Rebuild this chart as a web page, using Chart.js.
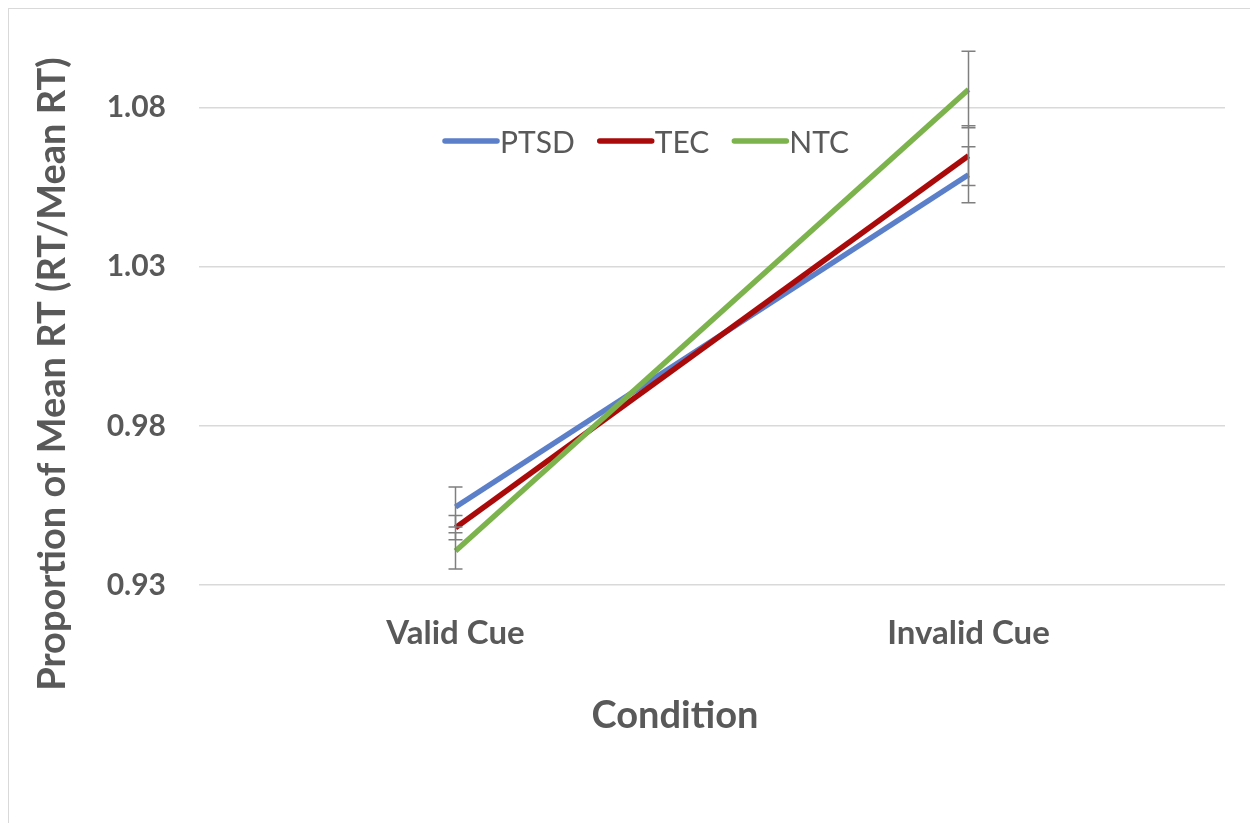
<!DOCTYPE html>
<html>
<head>
<meta charset="utf-8">
<script src="https://cdn.jsdelivr.net/npm/chart.js@4"></script>
<style>
  html, body { margin: 0; padding: 0; background: #fff; }
  #wrap { position: absolute; left: 8px; top: 8px; width: 1241px; height: 814px; border: 1px solid #d9d9d9; border-right: none; border-bottom: none; }
  #chart { position: absolute; left: -9px; top: -9px; }
</style>
</head>
<body>
<div id="wrap"><canvas id="chart" width="1250" height="823"></canvas></div>
<script>
const categories = ['Valid Cue', 'Invalid Cue'];
const ptsdValues = [0.9545, 1.0589];
const tecValues = [0.9480, 1.0649];
const ntcValues = [0.9407, 1.0857];
const ptsdErrors = [0.0063, 0.0088];
const tecErrors = [0.0038, 0.0094];
const ntcErrors = [0.0057, 0.0120];
const yTicks = [0.93, 0.98, 1.03, 1.08];
const xTitle = 'Condition';
const yTitle = 'Proportion of Mean RT (RT/Mean RT)';

const textColor = '#595959';
const fontFamily = 'Lato, "Open Sans", sans-serif';

// error bars drawn on top of the lines
const errorBars = {
    id: 'errorBars',
    afterDatasetsDraw(chart) {
        const ctx = chart.ctx;
        const y = chart.scales.y;
        ctx.save();
        ctx.strokeStyle = '#7f7f7f';
        ctx.lineWidth = 1.5;
        chart.data.datasets.forEach((ds, i) => {
            const meta = chart.getDatasetMeta(i);
            meta.data.forEach((pt, j) => {
                const v = ds.data[j];
                const e = ds.errors[j];
                const top = y.getPixelForValue(v + e);
                const bot = y.getPixelForValue(v - e);
                ctx.beginPath();
                ctx.moveTo(pt.x, top);
                ctx.lineTo(pt.x, bot);
                ctx.moveTo(pt.x - 7, top);
                ctx.lineTo(pt.x + 7, top);
                ctx.moveTo(pt.x - 7, bot);
                ctx.lineTo(pt.x + 7, bot);
                ctx.stroke();
            });
        });
        ctx.restore();
    }
};

// legend inside the plot area + axis titles (Excel centres them differently than Chart.js)
const extras = {
    id: 'extras',
    afterDraw(chart) {
        const ctx = chart.ctx;
        ctx.save();
        ctx.font = '30px ' + fontFamily;
        ctx.textBaseline = 'middle';
        let x = 445;
        const yPos = 141;
        chart.data.datasets.forEach(ds => {
            ctx.strokeStyle = ds.borderColor;
            ctx.lineWidth = 5.5;
            ctx.lineCap = 'round';
            ctx.beginPath();
            ctx.moveTo(x, yPos);
            ctx.lineTo(x + 52, yPos);
            ctx.stroke();
            ctx.fillStyle = textColor;
            ctx.fillText(ds.label, x + 55, yPos + 2);
            x += 55 + ctx.measureText(ds.label).width + 25;
        });

        ctx.fillStyle = textColor;
        ctx.textAlign = 'center';
        ctx.textBaseline = 'alphabetic';
        ctx.font = 'bold 38px ' + fontFamily;
        ctx.fillText(xTitle, 675, 728);

        ctx.translate(65, 374);
        ctx.rotate(-Math.PI / 2);
        ctx.font = 'bold 38px ' + fontFamily;
        ctx.fillText(yTitle, 0, 0);
        ctx.restore();
    }
};

new Chart(document.getElementById('chart'), {
    type: 'line',
    data: {
        labels: categories,
        datasets: [
            { label: 'PTSD', data: ptsdValues, errors: ptsdErrors, borderColor: '#5b7fc9', order: 2 },
            { label: 'TEC', data: tecValues, errors: tecErrors, borderColor: '#aa0a0a', order: 1 },
            { label: 'NTC', data: ntcValues, errors: ntcErrors, borderColor: '#7cb34c', order: 0 }
        ].map(d => Object.assign(d, { borderWidth: 5.5, pointRadius: 0, tension: 0, fill: false }))
    },
    options: {
        responsive: false,
        animation: false,
        layout: { padding: { left: 0, right: 25, top: 44, bottom: 88 } },
        plugins: { legend: { display: false }, tooltip: { enabled: false } },
        scales: {
            x: {
                offset: true,
                afterFit(axis) { axis.height = 150; },
                grid: { display: false },
                border: { display: false },
                ticks: { color: textColor, font: { family: fontFamily, size: 33, weight: 'bold' }, padding: 21 }
            },
            y: {
                min: 0.93,
                max: 1.10,
                afterBuildTicks(axis) { axis.ticks = yTicks.map(v => ({ value: v })); },
                afterFit(axis) { axis.width = 199; axis.paddingTop = 0; axis.paddingBottom = 0; },
                grid: { color: '#d9d9d9', lineWidth: 1.5, drawTicks: false },
                border: { display: false },
                ticks: {
                    color: textColor, padding: 33,
                    font: { family: fontFamily, size: 30, weight: 'bold' },
                    callback: v => v.toFixed(2)
                }
            }
        }
    },
    plugins: [errorBars, extras]
});
</script>
</body>
</html>
